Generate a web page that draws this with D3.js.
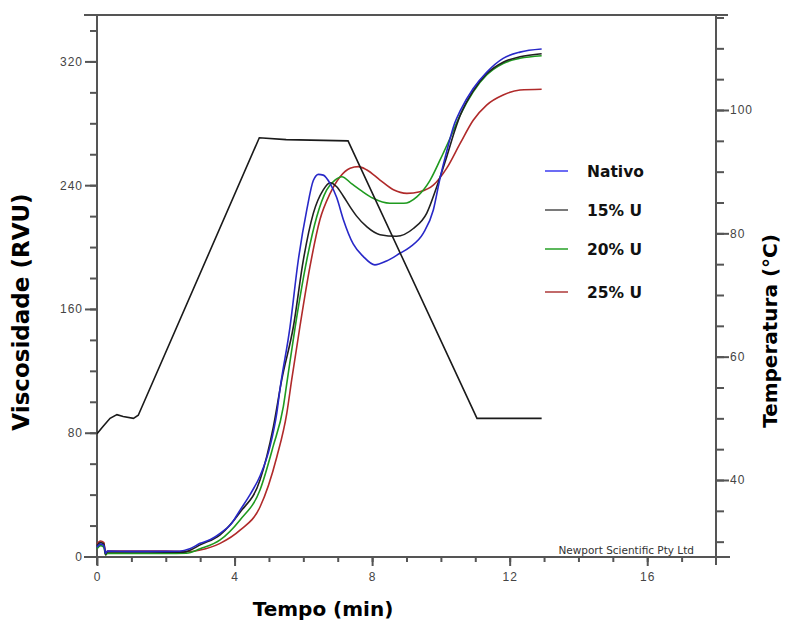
<!DOCTYPE html>
<html>
<head>
<meta charset="utf-8">
<script src="https://cdn.jsdelivr.net/npm/d3@7/dist/d3.min.js"></script>
<style>
  body { margin: 0; background: #fff; }
  svg { display: block; font-family: "DejaVu Sans", Arial, sans-serif; }
</style>
</head>
<body>
<script>
// series: [tempo (min), viscosidade (RVU)]
const nativo = [[0, 6], [0.1, 8], [0.2, 7], [0.25, 2], [0.3, 3.5], [1, 3.3], [2, 3.3], [2.4, 3.4], [2.7, 5], [3.0, 8.5], [3.3, 11],
  [3.58, 15], [3.9, 21], [4.16, 30], [4.45, 40], [4.74, 52], [5.03, 71], [5.23, 93], [5.32, 108], [5.61, 148], [5.85, 191],
  [6.1, 224], [6.29, 243], [6.44, 247], [6.58, 246.5], [6.78, 241], [6.97, 232], [7.16, 218], [7.45, 202], [7.74, 194],
  [8.08, 188.5], [8.42, 191], [8.81, 196], [9.1, 200], [9.49, 209], [9.78, 224], [9.97, 244], [10.17, 262], [10.4, 280],
  [10.56, 288], [10.94, 302.5], [11.33, 313], [11.81, 322], [12.3, 326], [12.93, 328]];

const u15 = [[0, 7], [0.1, 9], [0.2, 8], [0.25, 1.5], [0.3, 3], [1, 3], [2, 2.8], [2.5, 2.8], [2.7, 4], [3.0, 7.5], [3.58, 14],
  [4.16, 28.6], [4.74, 49.4], [5.13, 84], [5.37, 114], [5.71, 148.5], [6.0, 191.6], [6.29, 221.8], [6.58, 237], [6.78, 241.6],
  [6.97, 239], [7.16, 233], [7.36, 226], [7.55, 220], [7.85, 213], [8.23, 208], [8.71, 207], [9.2, 212], [9.59, 222], [9.88, 239],
  [10.17, 258.4], [10.4, 275], [10.56, 285], [10.94, 301], [11.33, 312], [11.81, 319.5], [12.3, 323], [12.93, 325]];

const u20 = [[0, 5], [0.1, 7], [0.2, 6], [0.25, 1], [0.3, 2], [1, 2], [2, 2], [2.6, 2.2], [3.0, 5], [3.58, 10.7], [4.16, 23.6],
  [4.74, 43], [5.12, 71], [5.42, 97], [5.52, 112], [5.76, 148], [6.1, 191.6], [6.39, 219.6], [6.68, 237], [6.92, 243.3],
  [7.12, 245.5], [7.4, 241], [7.65, 237], [8.03, 231.5], [8.52, 228.3], [8.92, 228.3], [9.3, 232.5], [9.68, 243],
  [9.97, 256], [10.26, 270], [10.56, 285.3], [10.94, 300.4], [11.33, 311.2], [11.81, 318.7], [12.3, 322], [12.93, 323.7]];

const u25 = [[0, 8], [0.1, 10], [0.2, 9], [0.25, 1], [0.3, 3.5], [1, 3.5], [2, 3.5], [2.7, 3.2], [3.0, 4.2], [3.58, 8.5],
  [4.16, 17], [4.74, 32], [5.23, 64.5], [5.52, 92.7], [5.66, 114], [5.9, 148.5], [6.19, 187], [6.48, 217.5], [6.78, 234.7],
  [7.07, 245.5], [7.36, 251], [7.6, 252], [7.85, 249.8], [8.23, 243.3], [8.62, 237], [9.01, 234.7], [9.39, 235.8],
  [9.78, 240], [10.17, 251], [10.56, 267], [10.94, 282], [11.33, 291.8], [11.81, 298.3], [12.3, 301.5], [12.93, 302]];

// perfil de temperatura: [tempo (min), temperatura (°C)]
const temperatura = [[0, 47.5], [0.18, 48.7], [0.38, 50], [0.58, 50.6], [0.76, 50.3], [1.06, 50], [1.2, 50.5],
  [4.72, 95.5], [5.5, 95.2], [7.3, 95], [11.05, 50], [12.93, 50]];

const legendLabels = ['Nativo', '15% U', '20% U', '25% U'];
const xTicks = [0, 4, 8, 12, 16];
const yTicks = [0, 80, 160, 240, 320];
const tTicks = [40, 60, 80, 100];

const colors = ['#2828c8', '#202020', '#1f9a1f', '#b02a2a'];
const legendColors = ['#6c6cf4', '#7a7a7a', '#5cb85c', '#c26a6a'];

const W = 790, H = 623;
const axisColor = '#555';
const labelColor = '#444';

const x = d3.scaleLinear().domain([0, 18]).range([97, 716]);
const yV = d3.scaleLinear().domain([0, 350]).range([556.5, 15]);
const yT = d3.scaleLinear().domain([40, 100]).range([480, 110]);

const svg = d3.select('body').
append('svg').
attr('width', W).
attr('height', H);

// frame lines
svg.append('line').attr('x1', 84).attr('x2', 728).attr('y1', 15).attr('y2', 15).
attr('stroke', axisColor).attr('stroke-width', 2);
svg.append('line').attr('x1', 84).attr('x2', 730).attr('y1', 557).attr('y2', 557).
attr('stroke', axisColor).attr('stroke-width', 2);
svg.append('line').attr('x1', 97).attr('x2', 97).attr('y1', 15).attr('y2', 565).
attr('stroke', axisColor).attr('stroke-width', 2);
svg.append('line').attr('x1', 716).attr('x2', 716).attr('y1', 15).attr('y2', 565).
attr('stroke', axisColor).attr('stroke-width', 2);

function styleAxis(g) {
  g.select('.domain').remove();
  g.selectAll('.tick line').attr('stroke', axisColor).attr('stroke-width', 2);
  g.selectAll('.tick text').attr('fill', labelColor).
  style('font-size', '12px').style('letter-spacing', '1px');
}

// left axis (viscosidade)
svg.append('g').attr('transform', 'translate(97,0)').
call(d3.axisLeft(yV).tickValues(d3.range(20, 341, 20)).tickSize(7).tickFormat('')).
call(styleAxis);
svg.append('g').attr('transform', 'translate(97,0)').
call(d3.axisLeft(yV).tickValues(yTicks).tickSize(12).tickPadding(2)).
call(styleAxis);

// bottom axis (tempo)
svg.append('g').attr('transform', 'translate(0,557)').
call(d3.axisBottom(x).tickValues(d3.range(1, 18, 1)).tickSize(5).tickFormat('')).
call(styleAxis);
svg.append('g').attr('transform', 'translate(0,557)').
call(d3.axisBottom(x).tickValues(xTicks).tickSize(9).tickPadding(6)).
call(styleAxis);

// right axis (temperatura)
svg.append('g').attr('transform', 'translate(716,0)').
call(d3.axisRight(yT).tickValues(d3.range(30, 116, 5)).tickSize(8).tickFormat('')).
call(styleAxis);
svg.append('g').attr('transform', 'translate(716,0)').
call(d3.axisRight(yT).tickValues(tTicks).tickSize(13).tickPadding(1)).
call(styleAxis);

// viscosity curves
const lineV = d3.line().
x(d => x(d[0])).
y(d => yV(d[1])).
curve(d3.curveMonotoneX);

const series = [nativo, u15, u20, u25];
[3, 2, 1, 0].forEach(i => {
  svg.append('path').
  datum(series[i]).
  attr('d', lineV).
  attr('fill', 'none').
  attr('stroke', colors[i]).
  attr('stroke-width', 1.6);
});

// temperature profile
const lineT = d3.line().
x(d => x(d[0])).
y(d => yT(d[1]));

svg.append('path').
datum(temperatura).
attr('d', lineT).
attr('fill', 'none').
attr('stroke', '#1a1a1a').
attr('stroke-width', 1.6);

// legend
const legendY = [171, 210, 249, 292];
const legend = svg.selectAll('.legend').
data(legendLabels).
enter().append('g').
attr('class', 'legend').
attr('transform', (d, i) => `translate(545,${legendY[i]})`);

legend.append('line').
attr('x1', 0).attr('x2', 23).
attr('stroke', (d, i) => legendColors[i]).
attr('stroke-width', 2);

legend.append('text').
attr('x', 42).
attr('y', 6).
text(d => d).
style('font-size', '15.5px').
style('font-weight', 'bold').
attr('fill', '#111');

// axis titles
svg.append('text').
attr('transform', 'translate(29,312) rotate(-90)').
attr('text-anchor', 'middle').
style('font-size', '23px').
style('font-weight', 'bold').
text('Viscosidade (RVU)');

svg.append('text').
attr('transform', 'translate(777,331) rotate(-90)').
attr('text-anchor', 'middle').
style('font-size', '20px').
style('font-weight', 'bold').
text('Temperatura (°C)');

svg.append('text').
attr('x', 323).
attr('y', 616).
attr('text-anchor', 'middle').
style('font-size', '20px').
style('font-weight', 'bold').
text('Tempo (min)');

svg.append('text').
attr('x', 694).
attr('y', 554).
attr('text-anchor', 'end').
style('font-size', '10.5px').
attr('fill', '#333').
text('Newport Scientific Pty Ltd');
</script>
</body>
</html>
